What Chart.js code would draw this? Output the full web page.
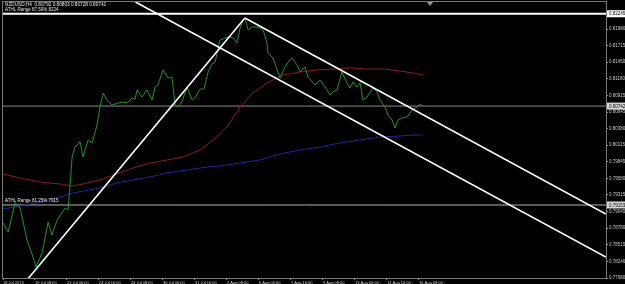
<!DOCTYPE html>
<html>
<head>
<meta charset="utf-8">
<title>NZDUSD H4</title>
<script src="https://cdn.jsdelivr.net/npm/chart.js@4.4.1/dist/chart.umd.min.js"></script>
<style>
  html, body { margin: 0; padding: 0; background: #000; }
  #wrap { width: 625px; height: 284px; }
</style>
</head>
<body>
<div id="wrap"><canvas id="chart" width="625" height="284"></canvas></div>
<script>
/* NZDUSD H4 — close line, moving averages, ATHL levels and a falling channel */
'use strict';

const symbolTitle = 'NZDUSD,H4  0.80792 0.80803 0.80728 0.80742';

// x is the H4 bar number counted from the left edge
const xTickBars = [0, 10, 20, 30, 40, 50, 60, 70, 80, 90, 100, 110, 120, 130];
const xTickLabels = ['18 Jul 2013', '19 Jul 08:00', '23 Jul 00:00', '24 Jul 16:00', '26 Jul 08:00',
    '30 Jul 00:00', '31 Jul 16:00', '2 Aug 08:00', '6 Aug 00:00', '7 Aug 16:00',
    '9 Aug 08:00', '13 Aug 00:00', '14 Aug 16:00', '16 Aug 08:00'];
const yTickValues = [0.77980, 0.78246, 0.78515, 0.78780, 0.79045, 0.79315, 0.79580, 0.79845,
    0.80115, 0.80380, 0.80645, 0.80915, 0.81180, 0.81450, 0.81715, 0.81980, 0.82245];

const closeBars = [0, 1.6, 3.75, 5.3, 7.5, 9.4, 10.3, 12.2, 14.1, 15.3, 16.9, 19.4, 20.3, 20.9, 21.6,
    22.5, 24.1, 25, 26.6, 27.8, 29.4, 30.3, 31.3, 32.5, 34.1, 35.9, 37.5, 38.8, 40.3, 41.3, 41.9,
    43.4, 45, 46.6, 47.5, 48.4, 50, 51.6, 52.8, 53.8, 54.7, 55.9, 57.5, 59.1, 60, 61.6, 62.8, 64.1,
    65.3, 66.3, 67.8, 69.4, 70.9, 71.9, 73.1, 74.1, 75, 75.6, 76.6, 77.8, 79.7, 81.3, 82.5, 82.8,
    84.4, 85.9, 86.6, 88.1, 89.1, 90.3, 91.9, 92.8, 94.4, 95.3, 97.5, 99.1, 101.3, 102.2, 103.1,
    104.4, 105.9, 107.5, 108.4, 109.4, 110.6, 111.6, 112.5, 113.8, 114.7, 115.6, 116.9, 117.8,
    119.4, 120.3, 121.6, 122.5, 123.4, 124.7, 126.3, 127.8, 129.4, 130.3, 131.3];
const closePrices = [0.78864, 0.78719, 0.79185, 0.79121, 0.78591, 0.78317, 0.78157, 0.78382, 0.78880,
    0.78671, 0.78912, 0.79105, 0.79072, 0.79442, 0.79924, 0.80084, 0.80165, 0.79924, 0.80197,
    0.80149, 0.80438, 0.80727, 0.80952, 0.80839, 0.80759, 0.80791, 0.80807, 0.80791, 0.80872,
    0.80856, 0.81000, 0.80888, 0.81000, 0.80839, 0.81048, 0.81080, 0.81321, 0.81193, 0.81209,
    0.80759, 0.80727, 0.80807, 0.81048, 0.80839, 0.80872, 0.81016, 0.81016, 0.81289, 0.81418,
    0.81450, 0.81803, 0.81835, 0.81852, 0.81835, 0.81755, 0.81996, 0.82125, 0.82157, 0.81964,
    0.82012, 0.82012, 0.81964, 0.81755, 0.81594, 0.81514, 0.81289, 0.81193, 0.81370, 0.81450,
    0.81514, 0.81402, 0.81289, 0.81370, 0.81209, 0.81080, 0.81161, 0.81000, 0.80920, 0.80968,
    0.81000, 0.81289, 0.81113, 0.81032, 0.81129, 0.81048, 0.81113, 0.80839, 0.80888, 0.80968,
    0.81032, 0.80968, 0.80839, 0.80727, 0.80598, 0.80518, 0.80390, 0.80518, 0.80550, 0.80566,
    0.80679, 0.80727, 0.80775, 0.80742];

const slowMaBars = [0, 5.3, 11.6, 17.8, 21.6, 25, 30.3, 35.6, 40.6, 45.9, 51.3, 56.3, 61.6, 65.6,
    70, 74.1, 78.1, 82.5, 87.5, 92.8, 98.1, 103.1, 108.4, 113.8, 118.8, 124.1, 128.1, 131.3];
const slowMaPrices = [0.79651, 0.79587, 0.79522, 0.79490, 0.79458, 0.79490, 0.79554, 0.79651,
    0.79747, 0.79827, 0.79876, 0.79924, 0.80036, 0.80197, 0.80406, 0.80727, 0.80952, 0.81113,
    0.81241, 0.81289, 0.81321, 0.81337, 0.81354, 0.81337, 0.81337, 0.81305, 0.81273, 0.81241];

const longMaBars = [0, 5.3, 11.6, 17.8, 21.9, 30.3, 35.6, 40.6, 45.9, 51.3, 57.5, 63.8, 67.8,
    80.3, 86.6, 92.8, 99.1, 105.3, 111.6, 117.8, 124.1, 128.1, 131.3];
const longMaPrices = [0.79089, 0.79137, 0.79201, 0.79281, 0.79346, 0.79426, 0.79506, 0.79554,
    0.79603, 0.79667, 0.79715, 0.79763, 0.79779, 0.79876, 0.79972, 0.80036, 0.80084, 0.80149,
    0.80197, 0.80245, 0.80261, 0.80277, 0.80277];

// trend line and channel, [start, end]
const riseBars = [7.5, 75.6];
const risePrices = [0.77948, 0.82157];
const upperBars = [75.6, 188.4];
const upperPrices = [0.82157, 0.79008];
const lowerBars = [41.4, 188.4];
const lowerPrices = [0.82414, 0.78317];

const levelPrices = [0.82225, 0.80742, 0.79153];
const levelTags = ['0.82245', '0.80742', '0.79153'];
const levelNotes = ['ATHL Range 87.50% 8224', '', 'ATHL Range 81.25% 7915'];
const levelColors = ['#ffffff', '#8c8c8c', '#b4b4b4'];

const X_MAX = 188.44;
const Y_MIN = 0.77980;
const Y_MAX = 0.82414;
const FONT = 'Liberation Sans, Arial, sans-serif';

const zip = (xs, ys) => xs.map((x, i) => ({ x, y: ys[i] }));

function lineSet(data, color, width, order) {
    return {
        data, borderColor: color, borderWidth: width, order,
        pointRadius: 0, tension: 0, fill: false, clip: 0
    };
}

const datasets = [
    lineSet(zip(riseBars, risePrices), '#ffffff', 1.6, 0),
    lineSet(zip(upperBars, upperPrices), '#ffffff', 1.6, 0),
    lineSet(zip(lowerBars, lowerPrices), '#ffffff', 1.6, 0),
    lineSet(zip(closeBars, closePrices), '#1f961f', 1, 1),
    lineSet(zip(slowMaBars, slowMaPrices), '#8e1c1c', 1, 2),
    lineSet(zip(longMaBars, longMaPrices), '#23239c', 1, 2)
];
levelPrices.forEach((p, i) => {
    datasets.push(lineSet([{ x: 0, y: p }, { x: X_MAX, y: p }], levelColors[i], i === 0 ? 2 : 1, 3));
});

const chartDecor = {
    id: 'chartDecor',
    beforeDraw(chart) {
        const { ctx } = chart;
        ctx.save();
        ctx.fillStyle = '#000';
        ctx.fillRect(0, 0, chart.width, chart.height);
        ctx.restore();
    },
    beforeDatasetsDraw(chart) {
        const { ctx, chartArea: a } = chart;
        ctx.save();
        ctx.strokeStyle = '#7a7a7a';
        ctx.lineWidth = 1;
        ctx.strokeRect(a.left - 0.5, a.top - 0.5, a.right - a.left + 1, a.bottom - a.top + 1);
        // chart shift marker
        ctx.fillStyle = '#9a9a9a';
        ctx.beginPath();
        ctx.moveTo(427, 2); ctx.lineTo(433, 2); ctx.lineTo(430, 6);
        ctx.closePath();
        ctx.fill();
        ctx.restore();
    },
    afterDraw(chart) {
        const { ctx, chartArea: a } = chart;
        const yS = chart.scales.y;
        ctx.save();
        ctx.textBaseline = 'middle';
        ctx.font = `4.7px ${FONT}`;
        ctx.fillStyle = '#e6e6e6';
        ctx.fillText(symbolTitle, 5, 5);
        ctx.font = `4.5px ${FONT}`;
        levelPrices.forEach((p, i) => {
            const y = yS.getPixelForValue(p);
            if (levelNotes[i]) {
                ctx.fillStyle = '#e6e6e6';
                ctx.fillText(levelNotes[i], 5, y - 4);
            }
            ctx.fillStyle = i === 0 ? '#ffffff' : '#d6d6d6';
            ctx.fillRect(a.right + 1, y - 3.5, chart.width - a.right - 1, 7);
            ctx.fillStyle = '#000';
            ctx.fillText(levelTags[i], a.right + 3, y + 0.3);
        });
        ctx.restore();
    }
};

new Chart(document.getElementById('chart'), {
    type: 'line',
    data: { datasets },
    options: {
        responsive: false,
        animation: false,
        devicePixelRatio: 1,
        layout: { padding: { left: 3, top: 2, right: 0, bottom: 0 } },
        plugins: { legend: { display: false }, tooltip: { enabled: false } },
        scales: {
            x: {
                type: 'linear',
                min: 0,
                max: X_MAX,
                afterBuildTicks: s => { s.ticks = xTickBars.map(v => ({ value: v })); },
                afterFit: s => { s.height = 6; s.paddingLeft = 0; s.paddingRight = 0; },
                ticks: {
                    autoSkip: false, maxRotation: 0, align: 'start', padding: 0,
                    color: '#c8c8c8', font: { family: FONT, size: 4 },
                    callback: (v, i) => xTickLabels[i]
                },
                grid: { drawOnChartArea: false, tickLength: 2, color: '#8a8a8a' },
                border: { color: '#7a7a7a' }
            },
            y: {
                position: 'right',
                min: Y_MIN,
                max: Y_MAX,
                afterBuildTicks: s => { s.ticks = yTickValues.map(v => ({ value: v })); },
                afterFit: s => { s.width = 19; s.paddingTop = 0; s.paddingBottom = 0; },
                ticks: {
                    autoSkip: false, padding: 1,
                    color: '#c8c8c8', font: { family: FONT, size: 4.5 },
                    callback: v => v.toFixed(5)
                },
                grid: { drawOnChartArea: false, tickLength: 2, color: '#8a8a8a' },
                border: { color: '#7a7a7a' }
            }
        }
    },
    plugins: [chartDecor]
});
</script>
</body>
</html>
